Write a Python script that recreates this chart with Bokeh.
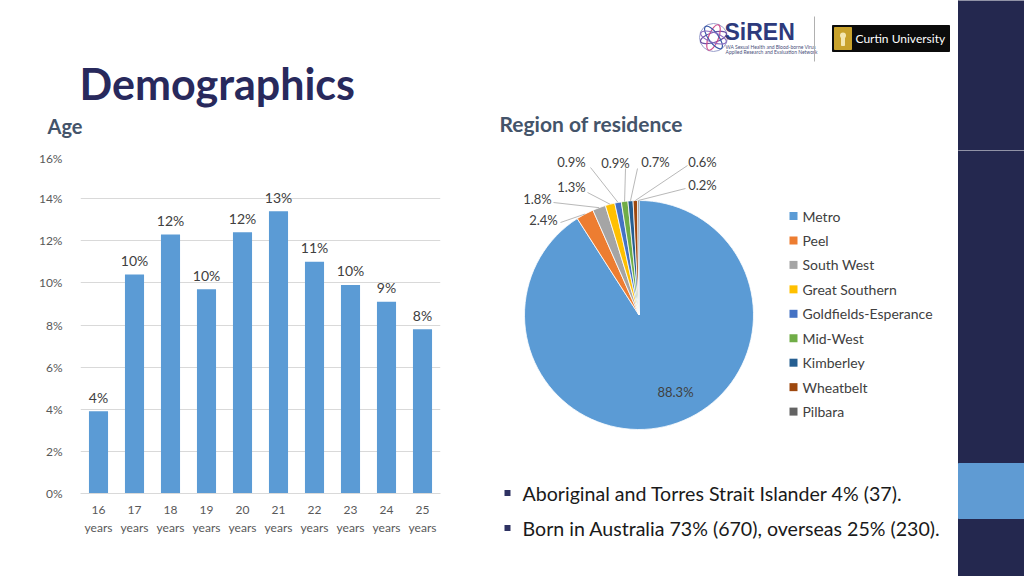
import math
from bokeh.plotting import figure
from bokeh.models import Range1d, FactorRange, FixedTicker, ColumnDataSource
from bokeh.layouts import row, column
from bokeh.embed import file_html
from bokeh.resources import INLINE
from bokeh.core.properties import value

FONT = "Lato"

# ---------------- data ----------------
age_groups = ["16\nyears", "17\nyears", "18\nyears", "19\nyears", "20\nyears",
              "21\nyears", "22\nyears", "23\nyears", "24\nyears", "25\nyears"]
age_pct = [3.9, 10.4, 12.3, 9.7, 12.4, 13.4, 11.0, 9.9, 9.1, 7.8]
age_labels = ["4%", "10%", "12%", "10%", "12%", "13%", "11%", "10%", "9%", "8%"]
y_ticks = [0, 2, 4, 6, 8, 10, 12, 14, 16]
y_tick_labels = ["0%", "2%", "4%", "6%", "8%", "10%", "12%", "14%", "16%"]

regions = ["Metro", "Peel", "South West", "Great Southern", "Goldfields-Esperance",
           "Mid-West", "Kimberley", "Wheatbelt", "Pilbara"]
region_pct = [88.3, 2.4, 1.8, 1.3, 0.9, 0.9, 0.7, 0.6, 0.2]
region_labels = ["88.3%", "2.4%", "1.8%", "1.3%", "0.9%", "0.9%", "0.7%", "0.6%", "0.2%"]
region_colors = ["#5B9BD5", "#ED7D31", "#A5A5A5", "#FFC000", "#4472C4",
                 "#70AD47", "#255E91", "#9E480E", "#636363"]

bullets = ["Aboriginal and Torres Strait Islander 4% (37).",
           "Born in Australia 73% (670), overseas 25% (230)."]

title_text = "Demographics"
age_title = "Age"
region_title = "Region of residence"

# ---------------- styles / layout ----------------
NAVY = "#24284f"
TITLE_C = "#28295c"
SUB_C = "#44546a"
TICK_C = "#595959"
LAB_C = "#404040"
GRID_C = "#d9d9d9"
PAGE_W = 1024
HEAD_H = 150
BODY_H = 426
BASE_SHIFT = 0.35  # compensates the rendered alphabetic baseline (in em)


def base_fig(w, h):
    f = figure(width=w, height=h, x_range=Range1d(0, w), y_range=Range1d(0, h),
               output_backend="svg", toolbar_location=None,
               x_axis_location=None, y_axis_location=None, min_border=0)
    f.grid.visible = False
    f.outline_line_color = None
    f.background_fill_color = "white"
    f.border_fill_color = "white"
    f.frame_align = False
    return f


# ---------- header (screen y 0..150) ----------
head = base_fig(PAGE_W, HEAD_H)
hx = lambda X: X
hy = lambda Y: HEAD_H - Y


def htext(x, base_y, txt, size, **kw):
    head.text(x=[hx(x)], y=[hy(base_y - BASE_SHIFT * size)], text=[txt],
              text_font=value(kw.pop("font", FONT)), text_font_size=f"{size}px",
              text_baseline="alphabetic", **kw)


htext(79, 98, title_text, 43, text_font_style="bold", text_color=TITLE_C)
htext(47, 132, age_title, 20, text_font_style="bold", text_color=SUB_C)
htext(499, 130, region_title, 21, text_font_style="bold", text_color=SUB_C)

# right dark band
head.quad(left=[hx(958)], right=[hx(1030)], bottom=[-5], top=[HEAD_H + 5], color=NAVY)

# SiREN logo
gx, gy = hx(713), hy(37)
head.circle(x=[gx], y=[gy], radius=14, fill_color="white", line_color="#9aa0cc", line_width=1)
for ang, col in [(0.3, "#6a4fa3"), (1.2, "#d0508f"), (2.2, "#3b5aa8"), (2.8, "#8a6cc0")]:
    head.ellipse(x=[gx], y=[gy], width=27, height=10, angle=ang,
                 fill_color=None, line_color=col, line_width=1.2)
htext(724, 40, "SiREN", 23, font="Liberation Sans", text_font_style="bold",
      text_color="#2d3a7c")
head.text(x=[hx(725), hx(725)], y=[hy(46), hy(51)],
          text=["WA Sexual Health and Blood-borne Virus",
                "Applied Research and Evaluation Network"],
          text_font=value(FONT), text_font_size="5px", text_color="#4a4f7a",
          text_baseline="middle")
head.segment(x0=[hx(814)], y0=[hy(16)], x1=[hx(814)], y1=[hy(61)],
             line_color="#b0b0b0", line_width=1)

# Curtin logo
head.quad(left=[hx(832)], right=[hx(949)], bottom=[hy(51)], top=[hy(25)], color="#0b0b0b")
head.quad(left=[hx(834)], right=[hx(851)], bottom=[hy(49)], top=[hy(27)], color="#c8a22c")
head.circle(x=[hx(842.5)], y=[hy(35)], radius=3, fill_color="#f3e7b0", line_color=None)
head.quad(left=[hx(841)], right=[hx(844)], bottom=[hy(45)], top=[hy(37)], color="#f3e7b0")
head.text(x=[hx(855)], y=[hy(37.5)], text=["Curtin University"], text_font=value(FONT),
          text_font_size="12px", text_color="white", text_baseline="middle")

# ---------- bar chart (screen x 0..460, y 150..576) ----------
bar = figure(width=460, height=BODY_H, x_range=FactorRange(factors=age_groups),
             y_range=Range1d(0, 16), output_backend="svg", toolbar_location=None,
             min_border_left=80, min_border_right=20, min_border_top=6,
             min_border_bottom=83)
bar.frame_align = False
bar.outline_line_color = None
bar.xgrid.visible = False
bar.ygrid.grid_line_color = GRID_C
bar.ygrid.grid_line_width = 1

src = ColumnDataSource(dict(x=age_groups, top=age_pct, lab=age_labels))
bar.vbar(x="x", top="top", width=0.53, source=src, fill_color="#5b9bd5", line_color=None)
bar.text(x="x", y="top", text="lab", source=src, text_align="center",
         text_baseline="alphabetic", y_offset=-14, text_font=value(FONT),
         text_font_size="14px", text_color=LAB_C)

bar.yaxis.ticker = FixedTicker(ticks=y_ticks)
bar.yaxis.major_label_overrides = dict(zip(y_ticks, y_tick_labels))
bar.yaxis.axis_line_color = None
bar.yaxis.major_tick_line_color = None
bar.yaxis.minor_tick_line_color = None
bar.yaxis.major_label_standoff = 12
bar.yaxis.major_label_text_font = FONT
bar.yaxis.major_label_text_font_size = "12px"
bar.yaxis.major_label_text_color = TICK_C

bar.xaxis.axis_line_color = GRID_C
bar.xaxis.major_tick_line_color = None
bar.xaxis.minor_tick_line_color = None
bar.xaxis.major_label_standoff = 2
bar.xaxis.major_label_text_font = FONT
bar.xaxis.major_label_text_font_size = "12px"
bar.xaxis.major_label_text_color = TICK_C
bar.xaxis.major_label_orientation = "horizontal"

# ---------- pie + legend + bullets (screen x 460..1024, y 150..576) ----------
pie = base_fig(PAGE_W - 460, BODY_H)
px = lambda X: X - 460
py = lambda Y: (HEAD_H + BODY_H) - Y

pie.quad(left=[px(958)], right=[px(1030)], bottom=[-5], top=[BODY_H + 5], color=NAVY)
pie.quad(left=[px(958)], right=[px(1030)], bottom=[py(518)], top=[py(463)], color="#5f9bd3")

cx, cy, R = px(638.5), py(314.5), 114.5
total = sum(region_pct)
starts, ends, mids = [], [], []
acc = 0.0
for v in region_pct:
    f0 = acc / total
    acc += v
    f1 = acc / total
    starts.append(math.pi / 2 - 2 * math.pi * f1)
    ends.append(math.pi / 2 - 2 * math.pi * f0)
    mids.append(math.pi / 2 - 2 * math.pi * (f0 + f1) / 2)

psrc = ColumnDataSource(dict(start=starts, end=ends, color=region_colors, name=regions))
pie.wedge(x=cx, y=cy, radius=R, start_angle="start", end_angle="end",
          fill_color="color", line_color="white", line_width=0.8, source=psrc)

# data label positions (screen) and leader-line starts
label_pos = [(675, 391), (543, 219), (537, 198), (571, 186), (571, 161),
             (615, 162), (655, 161), (702, 161), (702, 184)]
leader_from = [None, (560, 222), (553, 202), (587, 192), (590, 167),
               (625, 168), (637, 168), (687, 165), (685, 188)]

lx0, ly0, lx1, ly1 = [], [], [], []
for i, m in enumerate(mids):
    if leader_from[i] is None:
        continue
    ex = cx + R * math.cos(m)
    ey = cy + R * math.sin(m)
    lx0.append(px(leader_from[i][0]))
    ly0.append(py(leader_from[i][1]))
    lx1.append(ex)
    ly1.append(ey)
pie.segment(x0=lx0, y0=ly0, x1=lx1, y1=ly1, line_color="#a6a6a6", line_width=0.8)

pie.text(x=[px(p[0]) for p in label_pos], y=[py(p[1]) for p in label_pos],
         text=region_labels, text_align="center", text_baseline="middle",
         text_font=value(FONT), text_font_size="13px", text_color=LAB_C)

# legend
leg_y = [py(215.5 + i * 24.45) for i in range(len(regions))]
pie.scatter(x=[px(793)] * len(regions), y=leg_y, marker="square", size=8,
            fill_color=region_colors, line_color=None)
pie.text(x=[px(802)] * len(regions), y=leg_y, text=regions, text_baseline="middle",
         text_font=value(FONT), text_font_size="14px", text_color=LAB_C)

# bullets
b_y = [py(492.5), py(527.5)]
pie.scatter(x=[px(507)] * 2, y=b_y, marker="square", size=6,
            fill_color="#2e3262", line_color=None)
pie.text(x=[px(522)] * 2, y=b_y, text=bullets, text_baseline="middle",
         text_font=value(FONT), text_font_size="19.6px", text_color="#1a1a1a")

layout = column(head, row(bar, pie, spacing=0), spacing=0)

with open("out.html", "w") as fh:
    fh.write(file_html(layout, INLINE))
